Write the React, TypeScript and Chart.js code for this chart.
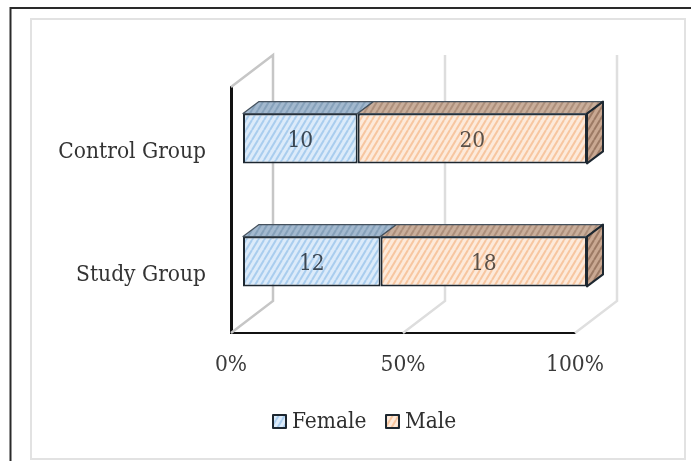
import { useEffect, useRef } from "react";
import { Chart, registerables } from "chart.js";

Chart.register(...registerables);

const groups = ["Control Group", "Study Group"];
const femaleCounts = [10, 12];
const maleCounts = [20, 18];
const tickSteps = 50;

const FONT = '"DejaVu Serif Condensed", "DejaVu Serif", serif';
const TEXT_SIZE = 22.5;
const WALL = { dx: 42, dy: -32 };
const BAR_SHIFT = { dx: 12, dy: -10 };
const FACE = { dx: 16, dy: -12 };
const OUTLINE = "#1d2730";

function hatch(bg: string, line: string) {
  const tile = document.createElement("canvas");
  tile.width = 6;
  tile.height = 10;
  const c = tile.getContext("2d")!;
  c.fillStyle = bg;
  c.fillRect(0, 0, 6, 10);
  c.strokeStyle = line;
  c.lineWidth = 2;
  for (const off of [-6, 0, 6]) {
    c.beginPath();
    c.moveTo(off, 10);
    c.lineTo(off + 6, 0);
    c.stroke();
  }
  return c.createPattern(tile, "repeat")!;
}

const polygon = (ctx: CanvasRenderingContext2D, pts: number[][], fill: any, stroke: string, width: number) => {
  ctx.beginPath();
  pts.forEach(([x, y], i) => (i ? ctx.lineTo(x, y) : ctx.moveTo(x, y)));
  ctx.closePath();
  ctx.fillStyle = fill;
  ctx.fill();
  ctx.strokeStyle = stroke;
  ctx.lineWidth = width;
  ctx.lineJoin = "round";
  ctx.stroke();
};

export default function App() {
  const canvasRef = useRef<HTMLCanvasElement>(null);

  useEffect(() => {
    const totals = groups.map((_, i) => femaleCounts[i] + maleCounts[i]);
    const palette = [
      {
        front: hatch("#dcebfa", "#a9cdee"),
        top: hatch("#a3b9cf", "#86a1ba"),
        side: hatch("#a3b9cf", "#86a1ba"),
        counts: femaleCounts,
      },
      {
        front: hatch("#fdeadb", "#f7c6a0"),
        top: hatch("#c9ae9b", "#ad8f7b"),
        side: hatch("#c9a892", "#9c7a65"),
        counts: maleCounts,
      },
    ];

    // Frame around the figure and the floor/wall lines of the 3D box.
    const backdrop = {
      id: "backdrop",
      beforeDraw(chart: any) {
        const ctx = chart.ctx;
        ctx.save();
        ctx.strokeStyle = "#e2e2e2";
        ctx.lineWidth = 2;
        ctx.strokeRect(31, 19, 654, 440);
        ctx.strokeStyle = "#2a2a2a";
        ctx.lineWidth = 2;
        ctx.beginPath();
        ctx.moveTo(691, 8);
        ctx.lineTo(10.5, 8);
        ctx.lineTo(10.5, 461);
        ctx.stroke();
        ctx.restore();
      },
      beforeDatasetsDraw(chart: any) {
        const { ctx, chartArea, scales } = chart;
        const wallColors = ["#c6c6c6", "#dddddd", "#dfdfdf"];
        ctx.save();
        ctx.lineWidth = 2.5;
        scales.x.ticks.forEach((t: any, i: number) => {
          const x = scales.x.getPixelForValue(t.value);
          ctx.strokeStyle = wallColors[i];
          ctx.beginPath();
          ctx.moveTo(x, chartArea.bottom);
          ctx.lineTo(x + WALL.dx, chartArea.bottom + WALL.dy);
          ctx.lineTo(x + WALL.dx, chartArea.top + WALL.dy);
          if (i === 0) ctx.lineTo(x, chartArea.top);
          ctx.stroke();
        });
        ctx.restore();
        ctx.save();
        ctx.translate(BAR_SHIFT.dx, BAR_SHIFT.dy);
      },
      afterDatasetsDraw(chart: any) {
        const ctx = chart.ctx;
        chart.data.datasets.forEach((_: any, d: number) => {
          chart.getDatasetMeta(d).data.forEach((bar: any, i: number) => {
            const { x, y, base, height } = bar.getProps(["x", "y", "base", "height"], true);
            const top = y - height / 2;
            const bottom = y + height / 2;
            polygon(
              ctx,
              [[base, top], [base + FACE.dx, top + FACE.dy], [x + FACE.dx, top + FACE.dy], [x, top]],
              palette[d].top,
              "#46525e",
              1.2,
            );
            if (d === chart.data.datasets.length - 1) {
              polygon(
                ctx,
                [[x, top], [x + FACE.dx, top + FACE.dy], [x + FACE.dx, bottom + FACE.dy], [x, bottom]],
                palette[d].side,
                OUTLINE,
                2,
              );
            }
            ctx.fillStyle = d === 0 ? "#3a4652" : "#5a5048";
            ctx.font = `${TEXT_SIZE}px ${FONT}`;
            ctx.textAlign = "center";
            ctx.textBaseline = "middle";
            ctx.fillText(String(palette[d].counts[i]), (x + base) / 2, y + 3);
          });
        });
        ctx.restore();
      },
      afterDraw(chart: any) {
        // Legend keys sit tight against their labels.
        const ctx = chart.ctx;
        const keyX = [273, 386];
        ctx.save();
        ctx.font = `${TEXT_SIZE}px ${FONT}`;
        ctx.textBaseline = "middle";
        ctx.textAlign = "left";
        chart.data.datasets.forEach((ds: any, d: number) => {
          polygon(ctx, [[keyX[d], 415], [keyX[d] + 13, 415], [keyX[d] + 13, 428], [keyX[d], 428]], palette[d].front, OUTLINE, 2);
          ctx.fillStyle = "#2f2f2f";
          ctx.fillText(ds.label, keyX[d] + 19, 422);
        });
        ctx.restore();
      },
    };

    const chart = new Chart(canvasRef.current!, {
      type: "bar",
      data: {
        labels: groups,
        datasets: [
          {
            label: "Female",
            data: femaleCounts.map((v, i) => (v / totals[i]) * 100),
            backgroundColor: palette[0].front,
            borderColor: OUTLINE,
            borderWidth: 2,
            borderSkipped: false,
          },
          {
            label: "Male",
            data: maleCounts.map((v, i) => (v / totals[i]) * 100),
            backgroundColor: palette[1].front,
            borderColor: OUTLINE,
            borderWidth: 2,
            borderSkipped: false,
          },
        ],
      },
      plugins: [backdrop],
      options: {
        indexAxis: "y",
        animation: false,
        responsive: false,
        barPercentage: 0.405,
        categoryPercentage: 1,
        layout: { padding: { top: 87, right: 116, bottom: 0, left: 0 } },
        plugins: { legend: { display: false }, tooltip: { enabled: false } },
        scales: {
          x: {
            stacked: true,
            min: 0,
            max: 100,
            afterFit: (s: any) => {
              s.height = 128;
            },
            ticks: {
              stepSize: tickSteps,
              padding: 11,
              maxRotation: 0,
              color: "#3a3a3a",
              font: { family: FONT, size: TEXT_SIZE },
              callback: (v: any) => `${v}%`,
            },
            grid: { display: false },
            border: { display: true, color: "#111111", width: 2 },
          },
          y: {
            stacked: true,
            afterFit: (s: any) => {
              s.width = 231;
            },
            ticks: {
              padding: 17,
              labelOffset: 4,
              color: "#333333",
              font: { family: FONT, size: TEXT_SIZE },
            },
            grid: { display: false },
            border: { display: true, color: "#111111", width: 3 },
          },
        },
      } as any,
    } as any);
    return () => chart.destroy();
  }, []);

  return (
    <div style={{ position: "absolute", left: 0, top: 0, background: "#ffffff" }}>
      <canvas ref={canvasRef} width={691} height={461} style={{ display: "block" }} />
    </div>
  );
}
